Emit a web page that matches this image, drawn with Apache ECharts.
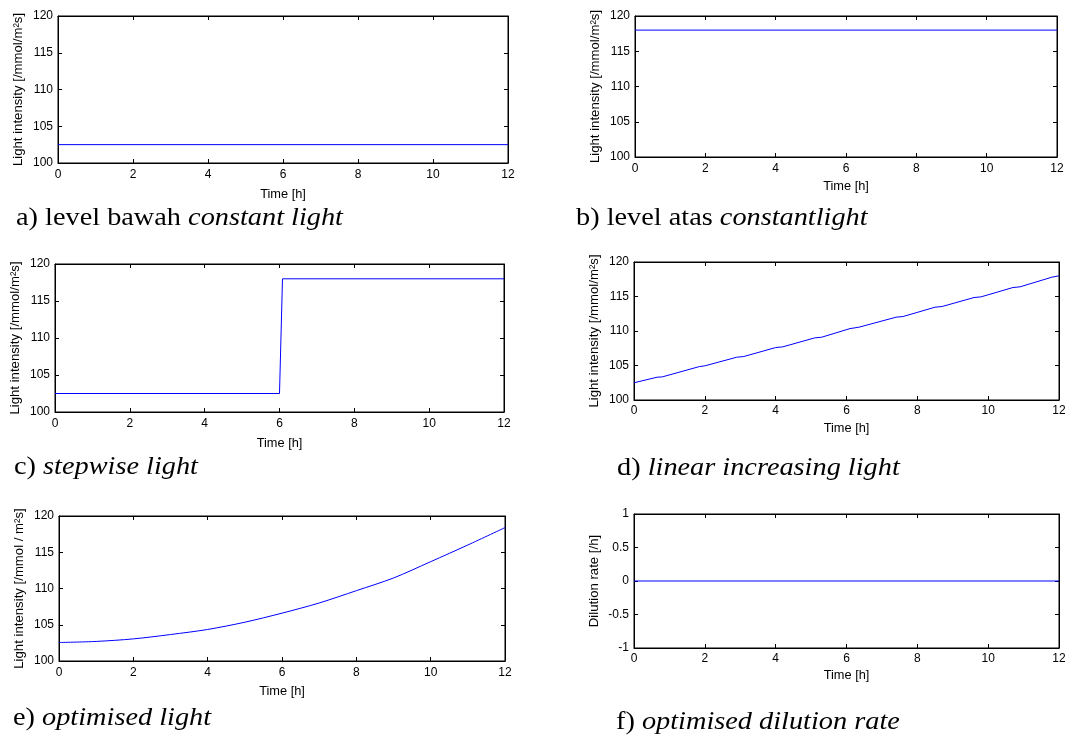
<!DOCTYPE html>
<html>
<head>
<meta charset="utf-8">
<script src="https://cdn.jsdelivr.net/npm/echarts@6/dist/echarts.min.js"></script>
<style>
  html, body { margin: 0; padding: 0; background: #fff; }
  #chart { width: 1079px; height: 738px; }
</style>
</head>
<body>
<div id="chart"></div>
<script>
// Time axis (shared by all panels)
const timeMin = 0
const timeMax = 12
const timeStep = 2

// a) level bawah constant light
const lowConstant = [[0, 102.5], [12, 102.5]]
// b) level atas constant light
const highConstant = [[0, 118], [12, 118]]
// c) stepwise light
const stepwise = [[0, 102.5], [6, 102.5], [6.08, 118], [12, 118]]
// d) linear increasing light (small plateaus kept)
const linearIncreasing = [
  [0, 102.5], [0.65, 103.3], [0.8, 103.35], [1.85, 104.85], [2.0, 104.95],
  [2.9, 106.2], [3.1, 106.3], [4.0, 107.6], [4.2, 107.7], [5.1, 109.0], [5.3, 109.1],
  [6.1, 110.35], [6.35, 110.55], [7.4, 112.0], [7.6, 112.1], [8.5, 113.45], [8.7, 113.55],
  [9.6, 114.85], [9.8, 114.95], [10.7, 116.3], [10.9, 116.4], [11.8, 117.8], [12, 118.0]
]
// e) optimised light
const optimisedLight = [
  [0, 102.55], [1, 102.7], [2, 103.05], [3, 103.65], [4, 104.35], [5, 105.35],
  [6, 106.6], [7, 108.0], [8, 109.7], [9, 111.45], [10, 113.7], [11, 116.0], [12, 118.4]
]
// f) optimised dilution rate
const dilutionRate = [[0, 0], [12, 0]]

const lightName = 'Light intensity [/mmol/m\u00b2s]'
const lightNameE = 'Light intensity [/mmol / m\u00b2s]'
const dilutionName = 'Dilution rate [/h]'
const timeName = 'Time [h]'

// Captions: plain prefix + italic part
const captions = [
  ['a) level bawah ', 'constant light'],
  ['b) level atas ', 'constantlight'],
  ['c) ', 'stepwise light'],
  ['d) ', 'linear increasing light'],
  ['e) ', 'optimised light'],
  ['f) ', 'optimised dilution rate']
]

// Panel layout: plot box [l, t, r, b], caption anchor, label gaps
const panels = [
  { box: [58, 16, 508, 163], cap: [16, 218], xGap: 25, xMargin: 6, data: lowConstant, y: [100, 120, 5], name: lightName },
  { box: [635, 16, 1057, 157], cap: [576, 218], xGap: 23, xMargin: 6, data: highConstant, y: [100, 120, 5], name: lightName },
  { box: [55, 264, 504, 412], cap: [14, 467], xGap: 25, xMargin: 6, data: stepwise, y: [100, 120, 5], name: lightName },
  { box: [634, 262, 1059, 400], cap: [617, 468], xGap: 22, xMargin: 5, data: linearIncreasing, y: [100, 120, 5], name: lightName },
  { box: [59, 516, 505, 661], cap: [13, 718], xGap: 24, xMargin: 6, data: optimisedLight, y: [100, 120, 5], name: lightNameE, smooth: 0.3 },
  { box: [634, 514, 1059, 648], cap: [616, 722], xGap: 21, xMargin: 5, data: dilutionRate, y: [-1, 1, 0.5], name: dilutionName }
]

const font = 'Liberation Sans, Arial, sans-serif'
const serif = 'Liberation Serif, Times New Roman, serif'
const black = '#000'

const grid = []
const xAxis = []
const yAxis = []
const series = []
const graphic = []

panels.forEach((p, i) => {
  const [l, t, r, b] = p.box
  grid.push({
    left: l, top: t, width: r - l, height: b - t,
    show: true, borderColor: black, borderWidth: 1, backgroundColor: '#fff'
  })
  const tick = { show: true, inside: true, length: 4, lineStyle: { color: black, width: 1 } }
  xAxis.push({
    type: 'value', gridIndex: i, min: timeMin, max: timeMax, interval: timeStep,
    name: timeName, nameLocation: 'middle', nameGap: p.xGap,
    nameTextStyle: { color: black, fontFamily: font, fontSize: 12.8 },
    axisLine: { show: true, onZero: false, lineStyle: { color: black, width: 1 } },
    axisTick: tick,
    axisLabel: { color: black, fontFamily: font, fontSize: 12, margin: p.xMargin },
    splitLine: { show: false }
  })
  xAxis.push({
    type: 'value', gridIndex: i, position: 'top', min: timeMin, max: timeMax, interval: timeStep,
    axisLine: { show: true, onZero: false, lineStyle: { color: black } },
    axisTick: tick, axisLabel: { show: false }, splitLine: { show: false }
  })
  yAxis.push({
    type: 'value', gridIndex: i, min: p.y[0], max: p.y[1], interval: p.y[2],
    name: p.name, nameLocation: 'middle', nameGap: 33, nameRotate: 90,
    nameTextStyle: { color: black, fontFamily: font, fontSize: 13.2 },
    axisLine: { show: true, onZero: false, lineStyle: { color: black, width: 1 } },
    axisTick: tick,
    axisLabel: { color: black, fontFamily: font, fontSize: 12, margin: 5 },
    splitLine: { show: false }
  })
  yAxis.push({
    type: 'value', gridIndex: i, position: 'right', min: p.y[0], max: p.y[1], interval: p.y[2],
    axisLine: { show: true, onZero: false, lineStyle: { color: black } },
    axisTick: tick, axisLabel: { show: false }, splitLine: { show: false }
  })
  series.push({
    type: 'line', xAxisIndex: 2 * i, yAxisIndex: 2 * i,
    data: p.data, showSymbol: false, symbol: 'none', smooth: p.smooth || false,
    lineStyle: { color: '#0000ff', width: 1 },
    silent: true, animation: false
  })
  graphic.push({
    type: 'text', x: p.cap[0], y: p.cap[1], scaleX: 1.11, silent: true,
    style: {
      text: '{n|' + captions[i][0] + '}{it|' + captions[i][1] + '}',
      verticalAlign: 'middle', align: 'left',
      rich: {
        n: { fontFamily: serif, fontSize: 25.5, fontWeight: 'normal', fill: black, color: black },
        it: { fontFamily: serif, fontSize: 25.5, fontWeight: 'normal', fontStyle: 'italic', fill: black, color: black }
      }
    }
  })
})

const chart = echarts.init(document.getElementById('chart'), null, { renderer: 'canvas' })
chart.setOption({
  backgroundColor: '#fff',
  animation: false,
  grid,
  xAxis,
  yAxis,
  series,
  graphic
})

window.addEventListener('resize', () => chart.resize())
</script>
</body>
</html>
